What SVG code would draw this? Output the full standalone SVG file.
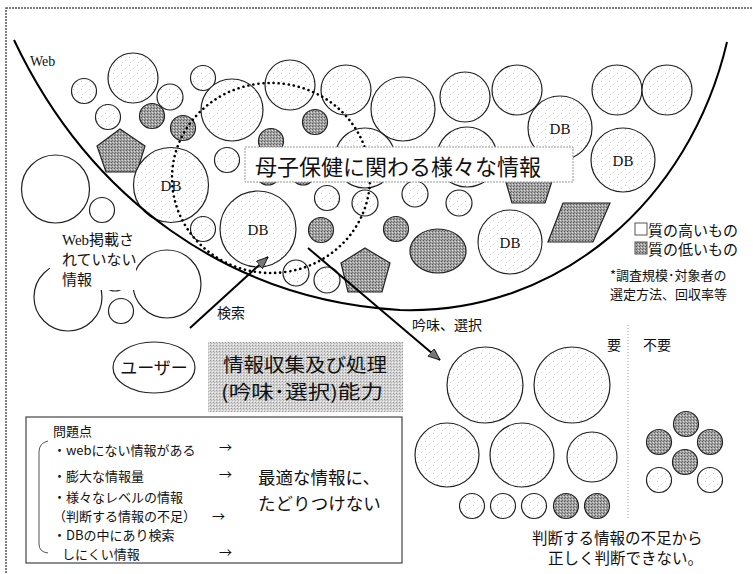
<svg xmlns="http://www.w3.org/2000/svg" width="753" height="574" viewBox="0 0 753 574">
<defs>
<pattern id="lt" width="8" height="8" patternUnits="userSpaceOnUse"><rect width="8" height="8" fill="#fff"/><rect x="1" y="1" width="1" height="1" fill="#c6c6c6"/><rect x="5" y="4" width="1" height="1" fill="#d2d2d2"/><rect x="2" y="6" width="1" height="1" fill="#dadada"/></pattern>
<pattern id="dk" width="3" height="3" patternUnits="userSpaceOnUse"><rect width="3" height="3" fill="#a4a4a4"/><rect x="0" y="0" width="1" height="1" fill="#5a5a5a"/><rect x="2" y="1" width="1" height="1" fill="#dcdcdc"/><rect x="1" y="2" width="1" height="1" fill="#707070"/></pattern>
<pattern id="gb" width="3" height="3" patternUnits="userSpaceOnUse"><rect width="3" height="3" fill="#d4d4d4"/><rect x="0" y="0" width="1" height="1" fill="#9a9a9a"/><rect x="2" y="2" width="1" height="1" fill="#f2f2f2"/><rect x="1" y="1" width="1" height="1" fill="#b8b8b8"/></pattern>
<marker id="ah" markerUnits="userSpaceOnUse" markerWidth="14" markerHeight="12" refX="12" refY="5" orient="auto"><path d="M0,0 L12,5 L0,10 z" fill="#777" stroke="#000" stroke-width="0.8"/></marker>
</defs>
<style>
.hi{fill:url(#lt);stroke:#222;stroke-width:1.2}
.lo{fill:url(#dk);stroke:#222;stroke-width:1.2}
.wh{fill:#fff;stroke:#222;stroke-width:1.2}
.jp{font-family:"Noto Sans CJK JP",sans-serif;fill:#111}
.sr{font-family:"Liberation Serif","Noto Sans CJK JP",serif;fill:#111}
.db{font-family:"Liberation Serif",serif;font-size:15px;fill:#111;text-anchor:middle}
.ln{stroke:#000;stroke-width:2;fill:none}
</style>
<rect width="753" height="574" fill="#fff"/>
<rect x="6" y="8" width="760" height="580" fill="none" stroke="#555" stroke-width="1.5" stroke-dasharray="2 1"/>

<g id="outside-circles">
<circle class="wh" cx="55.5" cy="189" r="34"/>
<circle class="wh" cx="102" cy="210" r="12.5"/>
<circle class="wh" cx="68" cy="297" r="34"/>
<circle class="wh" cx="167" cy="284" r="34"/>
<circle class="wh" cx="121" cy="311" r="12.5"/>
<circle class="wh" cx="115" cy="279" r="12"/>
</g>

<g id="web-circles">
<circle class="hi" cx="133" cy="78" r="25"/>
<circle class="hi" cx="84" cy="91" r="12.5"/>
<circle class="hi" cx="170" cy="97" r="13"/>
<circle class="hi" cx="203" cy="78" r="12.5"/>
<circle class="hi" cx="108" cy="117" r="12.5"/>
<circle class="hi" cx="232" cy="110" r="31"/>
<circle class="hi" cx="227" cy="160" r="12.5"/>
<circle class="hi" cx="203" cy="229" r="12.5"/>
<circle class="hi" cx="290" cy="85" r="25"/>
<circle class="hi" cx="346" cy="90" r="25"/>
<circle class="hi" cx="403" cy="109" r="32"/>
<circle class="hi" cx="465" cy="97" r="25"/>
<circle class="hi" cx="517" cy="90" r="25"/>
<circle class="hi" cx="617" cy="90" r="25"/>
<circle class="hi" cx="667" cy="90" r="25"/>
<circle class="hi" cx="365" cy="158" r="30"/>
<circle class="hi" cx="467" cy="157" r="30"/>
<circle class="hi" cx="327" cy="198" r="12.5"/>
<circle class="hi" cx="365" cy="203" r="13"/>
<circle class="hi" cx="415" cy="194" r="13"/>
<circle class="hi" cx="459" cy="203" r="13"/>
<circle class="hi" cx="296" cy="273" r="13"/>
<circle class="hi" cx="327" cy="280" r="13"/>
<circle class="lo" cx="152" cy="116" r="12.5"/>
<circle class="lo" cx="183" cy="128" r="12.5"/>
<circle class="lo" cx="271" cy="141" r="12.5"/>
<circle class="lo" cx="315" cy="122" r="12.5"/>
<circle class="lo" cx="268" cy="173" r="12"/>
<circle class="lo" cx="303" cy="173" r="12"/>
<circle class="lo" cx="321" cy="230" r="12.5"/>
<circle class="lo" cx="396" cy="229" r="12.5"/>
<ellipse class="lo" cx="438" cy="251" rx="28" ry="22"/>
<polygon class="lo" points="97,146 120,129 145,146 137,172 106,172"/>
<polygon class="lo" points="365,248 390,263 382,292 348,292 341,263"/>
<polygon class="lo" points="529,150 555,172 545,203 512,203 503,172"/>
<polygon class="lo" points="563,203 610,203 593,242 548,242"/>
</g>

<g id="db1"><circle class="hi" cx="171" cy="185" r="37.5"/><text class="db" x="171" y="191">DB</text></g>
<g id="db2"><circle class="hi" cx="258" cy="229" r="38"/><text class="db" x="258" y="235">DB</text></g>
<g id="db3"><circle class="hi" cx="560" cy="128" r="32"/><text class="db" x="560" y="134">DB</text></g>
<g id="db4"><circle class="hi" cx="623" cy="160" r="32"/><text class="db" x="623" y="166">DB</text></g>
<g id="db5"><circle class="hi" cx="510" cy="242" r="32"/><text class="db" x="510" y="248">DB</text></g>

<g id="web-boundary">
<path class="ln" d="M14,40 C90,200 230,300 400,310 C560,315 690,200 727,42"/>
<text class="sr" x="30" y="66" font-size="14">Web</text>
</g>

<ellipse cx="271" cy="178" rx="99" ry="95" fill="none" stroke="#000" stroke-width="2.6" stroke-linecap="round" stroke-dasharray="0.1 5"/>

<g id="title">
<rect x="245" y="147" width="328" height="35" fill="#fff" stroke="#999" stroke-width="1" stroke-dasharray="2 1"/>
<text class="jp" x="255" y="175" font-size="22">母子保健に関わる様々な情報</text>
</g>

<g id="not-on-web">
<rect x="50" y="229" width="86" height="61" fill="#fff"/>
<text class="sr" font-size="15"><tspan x="62" y="245">Web掲載さ</tspan><tspan x="62" y="265">れていない</tspan><tspan x="62" y="285">情報</tspan></text>
</g>

<g id="legend">
<rect x="635" y="223" width="12" height="12" fill="#fff" stroke="#555" stroke-width="1"/>
<text class="jp" x="648" y="236" font-size="15">質の高いもの</text>
<rect x="635" y="242" width="12" height="12" fill="url(#dk)" stroke="#555" stroke-width="1"/>
<text class="jp" x="648" y="255" font-size="15">質の低いもの</text>
<text class="jp" x="610" y="280" font-size="13">*調査規模･対象者の</text>
<text class="jp" x="610" y="299" font-size="13">選定方法、回収率等</text>
</g>

<g id="connectors">
<line class="ln" x1="190" y1="328" x2="268" y2="257" marker-end="url(#ah)"/>
<line class="ln" x1="308" y1="248" x2="440" y2="360" marker-end="url(#ah)"/>
<text class="jp" x="217" y="318" font-size="14">検索</text>
<text class="jp" x="412" y="330" font-size="14">吟味、選択</text>
</g>

<g id="user">
<ellipse cx="154" cy="367.5" rx="41" ry="25.5" fill="#fff" stroke="#222" stroke-width="1.2"/>
<text class="jp" x="154" y="374" font-size="17" text-anchor="middle">ユーザー</text>
</g>

<g id="ability">
<rect x="208" y="342" width="195" height="70" fill="url(#gb)"/>
<text class="jp" x="305" y="372" font-size="19" text-anchor="middle" fill="#222" textLength="164" lengthAdjust="spacingAndGlyphs">情報収集及び処理</text>
<text class="jp" x="302" y="399" font-size="19" text-anchor="middle" fill="#222" textLength="162" lengthAdjust="spacingAndGlyphs">(吟味･選択)能力</text>
</g>

<g id="problems">
<rect x="26" y="417" width="376" height="146" fill="#fff" stroke="#444" stroke-width="1.2"/>
<path d="M48,441 Q39,443 39,452 L39,544 Q39,552 48,553" fill="none" stroke="#555" stroke-width="1"/>
<text class="jp" font-size="13">
<tspan x="53" y="436">問題点</tspan>
<tspan x="53" y="455">・webにない情報がある</tspan>
<tspan x="53" y="481">・膨大な情報量</tspan>
<tspan x="53" y="502">・様々なレベルの情報</tspan>
<tspan x="53" y="521">（判断する情報の不足）</tspan>
<tspan x="53" y="540">・DBの中にあり検索</tspan>
<tspan x="62" y="559">しにくい情報</tspan>
</text>
<text class="jp" font-size="13"><tspan x="219" y="452">→</tspan><tspan x="219" y="479">→</tspan><tspan x="212" y="521">→</tspan><tspan x="219" y="557">→</tspan></text>
<text class="jp" font-size="17.5"><tspan x="258" y="484">最適な情報に、</tspan><tspan x="258" y="510">たどりつけない</tspan></text>
</g>

<g id="result">
<text class="jp" x="607" y="350" font-size="14">要</text>
<text class="jp" x="643" y="350" font-size="14">不要</text>
<line x1="628" y1="325" x2="628" y2="520" stroke="#999" stroke-width="1" stroke-dasharray="1 2"/>
<circle class="hi" cx="485" cy="385" r="38"/>
<circle class="hi" cx="572" cy="385" r="38"/>
<circle class="hi" cx="447" cy="455" r="32"/>
<circle class="hi" cx="522" cy="455" r="32"/>
<circle class="hi" cx="592" cy="457" r="25"/>
<circle class="hi" cx="472" cy="506" r="12.5"/>
<circle class="hi" cx="503" cy="506" r="12.5"/>
<circle class="hi" cx="534" cy="506" r="12.5"/>
<circle class="lo" cx="566" cy="506" r="12.5"/>
<circle class="lo" cx="597" cy="506" r="12.5"/>
<circle class="lo" cx="686" cy="424" r="12.5"/>
<circle class="lo" cx="659" cy="442" r="12.5"/>
<circle class="lo" cx="710" cy="442" r="12.5"/>
<circle class="lo" cx="685" cy="462" r="12.5"/>
<circle class="hi" cx="659" cy="480" r="12.5"/>
<circle class="hi" cx="710" cy="480" r="12.5"/>
<text class="jp" x="532" y="544" font-size="15.5">判断する情報の不足から</text>
<text class="jp" x="548" y="564" font-size="15.5">正しく判断できない。</text>
</g>
</svg>
